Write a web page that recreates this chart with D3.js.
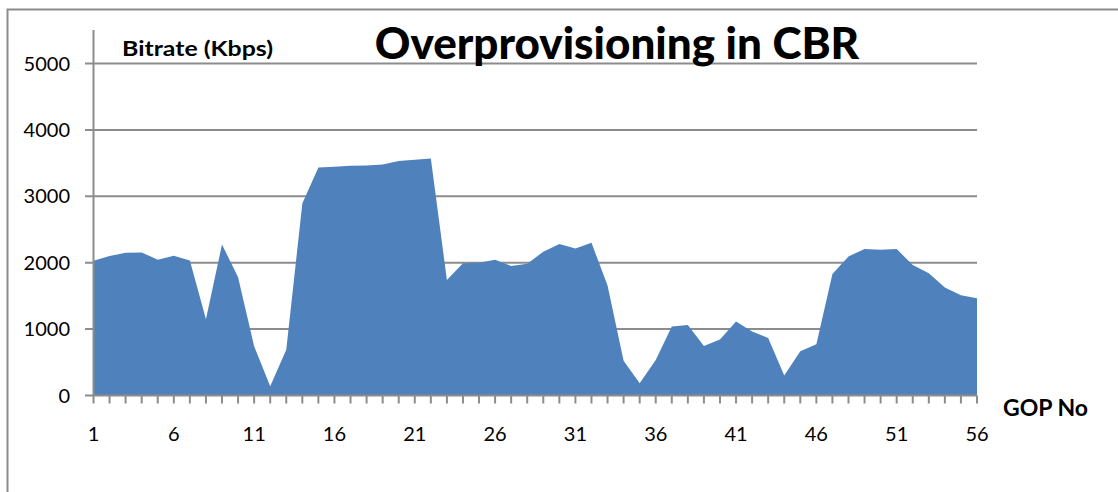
<!DOCTYPE html>
<html>
<head>
<meta charset="utf-8">
<script src="https://cdn.jsdelivr.net/npm/d3@7"></script>
<style>
  body { margin: 0; background: #fff; }
  text { font-family: Lato, "Open Sans", sans-serif; fill: #000; }
</style>
</head>
<body>
<div id="chart"></div>
<script>
// GOP numbers and bitrate (Kbps)
const gops = d3.range(1, 57);
const bitrate = [
  2030, 2100, 2150, 2155, 2045, 2105, 2035, 1150, 2275, 1780,
  740, 140, 690, 2890, 3435, 3445, 3460, 3465, 3480, 3530,
  3550, 3570, 1740, 1990, 2000, 2045, 1950, 1985, 2165, 2280,
  2215, 2300, 1655, 525, 185, 535, 1040, 1060, 745, 845,
  1115, 965, 865, 300, 665, 770, 1830, 2095, 2205, 2195,
  2205, 1965, 1840, 1625, 1510, 1465
];
const yTicks = [0, 1000, 2000, 3000, 4000, 5000];
const xLabels = [1, 6, 11, 16, 21, 26, 31, 36, 41, 46, 51, 56];

const W = 1118, H = 492;
const svg = d3.select('#chart').append('svg')
  .attr('width', W)
  .attr('height', H);

// outer frame (only top and left visible)
svg.append('path')
  .attr('d', `M7.5,${H} V9.5 H${W}`)
  .attr('fill', 'none')
  .attr('stroke', '#8c8c8c')
  .attr('stroke-width', 2);

const x = d3.scaleLinear().domain([1, 56]).range([93.5, 977]);
const y = d3.scaleLinear().domain([0, 5000]).range([395.5, 63.5]);

// gridlines
svg.append('g')
  .selectAll('line')
  .data(yTicks.filter(d => d > 0))
  .join('line')
  .attr('x1', 85).attr('x2', 977)
  .attr('y1', d => y(d)).attr('y2', d => y(d))
  .attr('stroke', '#8c8c8c')
  .attr('stroke-width', 2);

// area
const area = d3.area()
  .x((d, i) => x(gops[i]))
  .y0(y(0))
  .y1(d => y(d));

svg.append('path')
  .datum(bitrate)
  .attr('d', area)
  .attr('fill', '#4f81bd');

// y axis
svg.append('line')
  .attr('x1', 93.5).attr('x2', 93.5)
  .attr('y1', 30).attr('y2', y(0))
  .attr('stroke', '#8c8c8c')
  .attr('stroke-width', 2);

svg.append('line')
  .attr('x1', 85).attr('x2', 977)
  .attr('y1', y(0)).attr('y2', y(0))
  .attr('stroke', '#8c8c8c')
  .attr('stroke-width', 2);

svg.append('g')
  .selectAll('text')
  .data(yTicks)
  .join('text')
  .attr('x', 70)
  .attr('y', d => y(d) + 7)
  .attr('text-anchor', 'end')
  .style('font-size', '20px')
  .text(d => d);

// x ticks
svg.append('g')
  .selectAll('line')
  .data(gops)
  .join('line')
  .attr('x1', d => x(d)).attr('x2', d => x(d))
  .attr('y1', y(0)).attr('y2', y(0) + 8)
  .attr('stroke', '#8c8c8c')
  .attr('stroke-width', 2);

svg.append('g')
  .selectAll('text')
  .data(xLabels)
  .join('text')
  .attr('x', d => x(d))
  .attr('y', 441)
  .attr('text-anchor', 'middle')
  .style('font-size', '20px')
  .text(d => d);

// titles
svg.append('text')
  .attr('x', 617)
  .attr('y', 59)
  .attr('text-anchor', 'middle')
  .style('font-size', '44px')
  .style('font-weight', '900')
  .text('Overprovisioning in CBR');

svg.append('text')
  .attr('x', 122)
  .attr('y', 56)
  .style('font-size', '21px')
  .style('font-weight', 'bold')
  .attr('textLength', 151)
  .attr('lengthAdjust', 'spacingAndGlyphs')
  .text('Bitrate (Kbps)');

svg.append('text')
  .attr('x', 1003)
  .attr('y', 416)
  .style('font-size', '22px')
  .style('font-weight', 'bold')
  .attr('textLength', 85)
  .attr('lengthAdjust', 'spacingAndGlyphs')
  .text('GOP No');
</script>
</body>
</html>
